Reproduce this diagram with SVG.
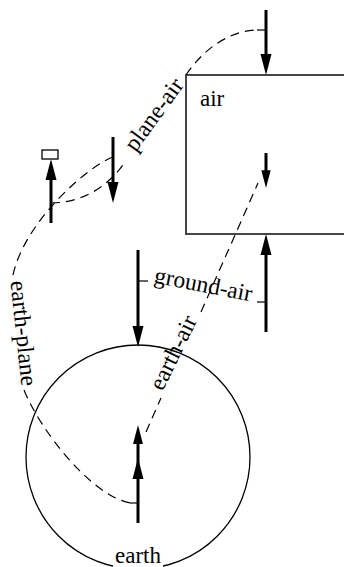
<svg xmlns="http://www.w3.org/2000/svg" xmlns:xlink="http://www.w3.org/1999/xlink" width="344" height="567" viewBox="0 0 344 567">
<style>
  .node { fill: #fff; stroke: #000; stroke-width: 1.3; }
  .box { fill: #fff; stroke: #333; stroke-width: 1.8; }
  .lbl { font-family: "Liberation Serif", "Times New Roman", serif; font-size: 23px; fill: #000; }
  .elbl { font-family: "Liberation Serif", "Times New Roman", serif; font-size: 23.5px; fill: #000; text-anchor: middle; }
  .dash { fill: none; stroke: #000; stroke-width: 1.2; stroke-dasharray: 9 6; }
  .tick { fill: none; stroke: #000; stroke-width: 1.2; }
  .shaft { stroke: #000; stroke-width: 3; fill: none; }
  .head { fill: #000; stroke: none; }
</style>
<defs>
  <polygon id="ah" points="0,0 -5.5,-21 5.5,-21"/>
</defs>

<g id="air">
  <rect class="box" x="186" y="75" width="170" height="159"/>
  <text class="lbl" x="200" y="106">air</text>
</g>

<g id="earth">
  <circle class="node" cx="138" cy="457" r="112"/>
  <rect x="113" y="546" width="50" height="21" fill="#fff"/>
  <text class="lbl" x="138" y="563" text-anchor="middle">earth</text>
</g>

<g id="plane">
  <rect class="node" x="42" y="150" width="16" height="9"/>
</g>

<g id="connectors">
  <!-- plane-air -->
  <path class="dash" d="M51,203 C78,203 106,190 125,162"/>
  <path class="dash" d="M186,75 C200,54 225,31 257,30"/>
  <path class="tick" d="M257,30 L266,30"/>
  <text class="elbl" transform="translate(160,119) rotate(-54)">plane-air</text>

  <!-- earth-plane -->
  <path class="dash" d="M113,157 C90,165 25,220 13,275"/>
  <path class="dash" d="M24,390 C40,430 92,497 131,503"/>
  <path class="tick" d="M130,503 L138,503"/>
  <text class="elbl" transform="translate(16,334) rotate(84)">earth-plane</text>

  <!-- earth-air -->
  <path class="dash" d="M146,432 L161,398"/>
  <path class="dash" d="M201,312 L258,183"/>
  <text class="elbl" transform="translate(180,356) rotate(-64)">earth-air</text>

  <!-- ground-air -->
  <path class="tick" d="M138,281 L148,281"/>
  <path class="tick" d="M257,302 L266,302"/>
  <text class="elbl" transform="translate(202,292) rotate(11)">ground-air</text>

  <!-- port arrows -->
  <line class="shaft" x1="266" y1="10" x2="266" y2="56"/>
  <use href="#ah" xlink:href="#ah" class="head" transform="translate(266,75)"/>

  <line class="shaft" x1="266" y1="153" x2="266" y2="172"/>
  <use href="#ah" xlink:href="#ah" class="head" transform="translate(266,188) scale(0.85)"/>

  <line class="shaft" x1="266" y1="332" x2="266" y2="253"/>
  <use href="#ah" xlink:href="#ah" class="head" transform="translate(266,234) rotate(180)"/>

  <line class="shaft" x1="138" y1="250" x2="138" y2="328"/>
  <use href="#ah" xlink:href="#ah" class="head" transform="translate(138,347)"/>

  <line class="shaft" x1="113" y1="137" x2="113" y2="184"/>
  <use href="#ah" xlink:href="#ah" class="head" transform="translate(113,203)"/>

  <line class="shaft" x1="51" y1="223" x2="51" y2="178"/>
  <use href="#ah" xlink:href="#ah" class="head" transform="translate(51,159) rotate(180)"/>

  <line class="shaft" x1="138" y1="523" x2="138" y2="442"/>
  <use href="#ah" xlink:href="#ah" class="head" transform="translate(138,458) rotate(180)"/>
  <use href="#ah" xlink:href="#ah" class="head" transform="translate(138,425) rotate(180) scale(0.9)"/>
</g>
</svg>
